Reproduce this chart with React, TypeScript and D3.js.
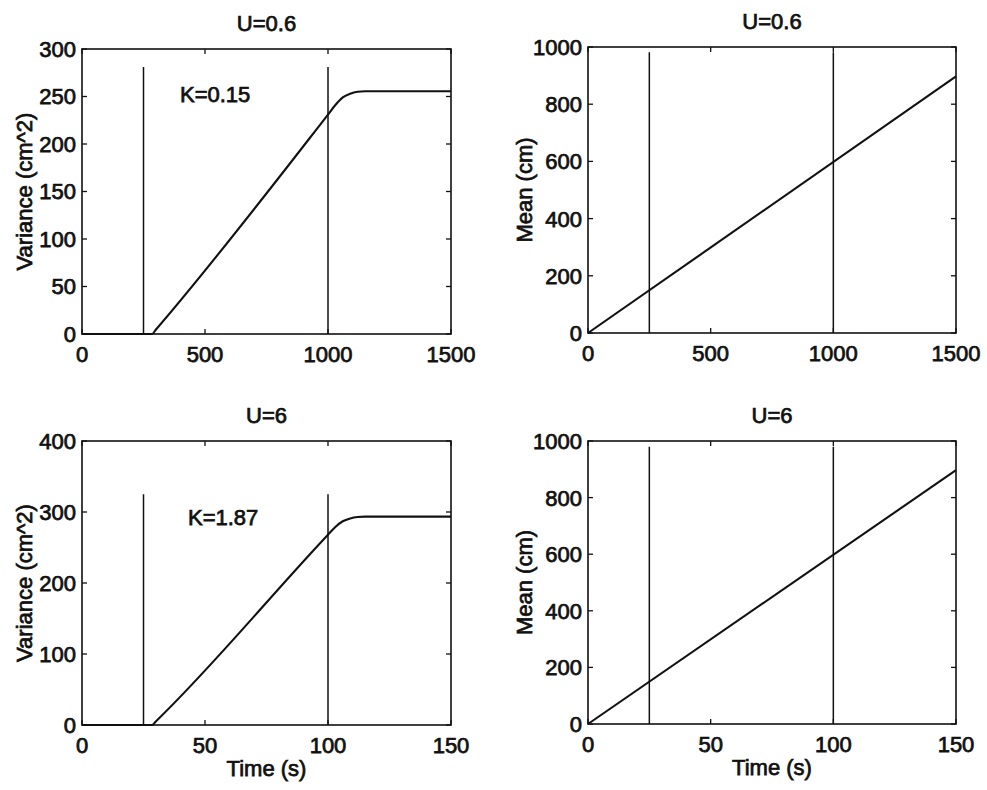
import React from "react";
import * as d3 from "d3";

// ---- data ----
const varTimeU06 = [0, 250, 285, 300, 1000, 1030, 1060, 1090, 1120, 1150, 1500];
const varValU06 = [0, 0, 0, 4.5, 231, 241, 249, 253, 255, 255.5, 255.5];
const meanTimeU06 = [0, 1500];
const meanValU06 = [0, 897];

const varTimeU6 = [0, 25, 28.5, 30, 100, 103, 106, 109, 112, 115, 150];
const varValU6 = [0, 0, 0, 5, 268, 279, 287, 291, 293, 293.5, 293.5];
const meanTimeU6 = [0, 150];
const meanValU6 = [0, 897];

const markersU06 = [250, 1000];
const markersU6 = [25, 100];

const xTicksU06 = [0, 500, 1000, 1500];
const xTicksU6 = [0, 50, 100, 150];
const varTicksU06 = [0, 50, 100, 150, 200, 250, 300];
const varTicksU6 = [0, 100, 200, 300, 400];
const meanTicks = [0, 200, 400, 600, 800, 1000];

const panels = [
  {
    title: "U=0.6", yLabel: "Variance (cm^2)", xLabel: "", note: "K=0.15",
    xDomain: [0, 1500], yDomain: [0, 300], xTicks: xTicksU06, yTicks: varTicksU06,
    t: varTimeU06, v: varValU06, markers: markersU06, markerTop: 281,
    noteX: 180, noteY: 102, box: { x0: 82, x1: 451, y0: 49, y1: 334 }, labelOff: 50,
  },
  {
    title: "U=0.6", yLabel: "Mean (cm)", xLabel: "", note: "",
    xDomain: [0, 1500], yDomain: [0, 1000], xTicks: xTicksU06, yTicks: meanTicks,
    t: meanTimeU06, v: meanValU06, markers: markersU06, markerTop: 982,
    noteX: 0, noteY: 0, box: { x0: 588, x1: 956, y0: 47, y1: 333 }, labelOff: 56,
  },
  {
    title: "U=6", yLabel: "Variance (cm^2)", xLabel: "Time (s)", note: "K=1.87",
    xDomain: [0, 150], yDomain: [0, 400], xTicks: xTicksU6, yTicks: varTicksU6,
    t: varTimeU6, v: varValU6, markers: markersU6, markerTop: 325,
    noteX: 188, noteY: 525, box: { x0: 82, x1: 451, y0: 441, y1: 725 }, labelOff: 50,
  },
  {
    title: "U=6", yLabel: "Mean (cm)", xLabel: "Time (s)", note: "",
    xDomain: [0, 150], yDomain: [0, 1000], xTicks: xTicksU6, yTicks: meanTicks,
    t: meanTimeU6, v: meanValU6, markers: markersU6, markerTop: 980,
    noteX: 0, noteY: 0, box: { x0: 588, x1: 956, y0: 441, y1: 724 }, labelOff: 56,
  },
];

const FONT = "'Liberation Sans', Arial, Helvetica, sans-serif";
const textStyle = { fontFamily: FONT, fontSize: 22, fill: "#111", stroke: "#111", strokeWidth: 0.75 };

function Panel({ p }: { p: any }) {
  const { x0, x1, y0, y1 } = p.box;
  const x = d3.scaleLinear().domain(p.xDomain).range([x0, x1]);
  const y = d3.scaleLinear().domain(p.yDomain).range([y1, y0]);
  const pts: [number, number][] = p.t.map((tt: number, i: number) => [tt, p.v[i]]);
  const line = d3.line<[number, number]>().x((d) => x(d[0])).y((d) => y(d[1])).curve(d3.curveMonotoneX);
  const tl = 5;
  const cx = (x0 + x1) / 2;
  const cy = (y0 + y1) / 2;
  return (
    <g>
      {p.markers.map((m: number) => (
        <line key={"m" + m} x1={x(m)} x2={x(m)} y1={y(0)} y2={y(p.markerTop)} stroke="#111" strokeWidth={1.5} />
      ))}
      <path d={line(pts) || ""} fill="none" stroke="#111" strokeWidth={2.1} />
      <rect x={x0} y={y0} width={x1 - x0} height={y1 - y0} fill="none" stroke="#111" strokeWidth={1.6} />
      {p.xTicks.map((t: number) => (
        <g key={"x" + t}>
          <line x1={x(t)} x2={x(t)} y1={y1} y2={y1 - tl} stroke="#111" strokeWidth={1.3} />
          <line x1={x(t)} x2={x(t)} y1={y0} y2={y0 + tl} stroke="#111" strokeWidth={1.3} />
          <text x={x(t)} y={y1 + 28} textAnchor="middle" style={textStyle}>{t}</text>
        </g>
      ))}
      {p.yTicks.map((t: number) => (
        <g key={"y" + t}>
          <line x1={x0} x2={x0 + tl} y1={y(t)} y2={y(t)} stroke="#111" strokeWidth={1.3} />
          <line x1={x1} x2={x1 - tl} y1={y(t)} y2={y(t)} stroke="#111" strokeWidth={1.3} />
          <text x={x0 - 6} y={y(t)} dy="0.36em" textAnchor="end" style={textStyle}>{t}</text>
        </g>
      ))}
      <text x={cx} y={y0 - 18} textAnchor="middle" style={textStyle}>{p.title}</text>
      <text transform={`translate(${x0 - p.labelOff},${cy}) rotate(-90)`} textAnchor="middle" style={textStyle}>{p.yLabel}</text>
      {p.xLabel && (
        <text x={cx} y={y1 + 51} textAnchor="middle" style={textStyle}>{p.xLabel}</text>
      )}
      {p.note && (
        <text x={p.noteX} y={p.noteY} style={textStyle}>{p.note}</text>
      )}
    </g>
  );
}

export default function App() {
  return (
    <svg width={987} height={790} style={{ position: "absolute", left: 0, top: 0, background: "#fff" }}>
      <rect x={0} y={0} width={987} height={790} fill="#fff" />
      {panels.map((p, i) => (
        <Panel key={i} p={p} />
      ))}
    </svg>
  );
}
